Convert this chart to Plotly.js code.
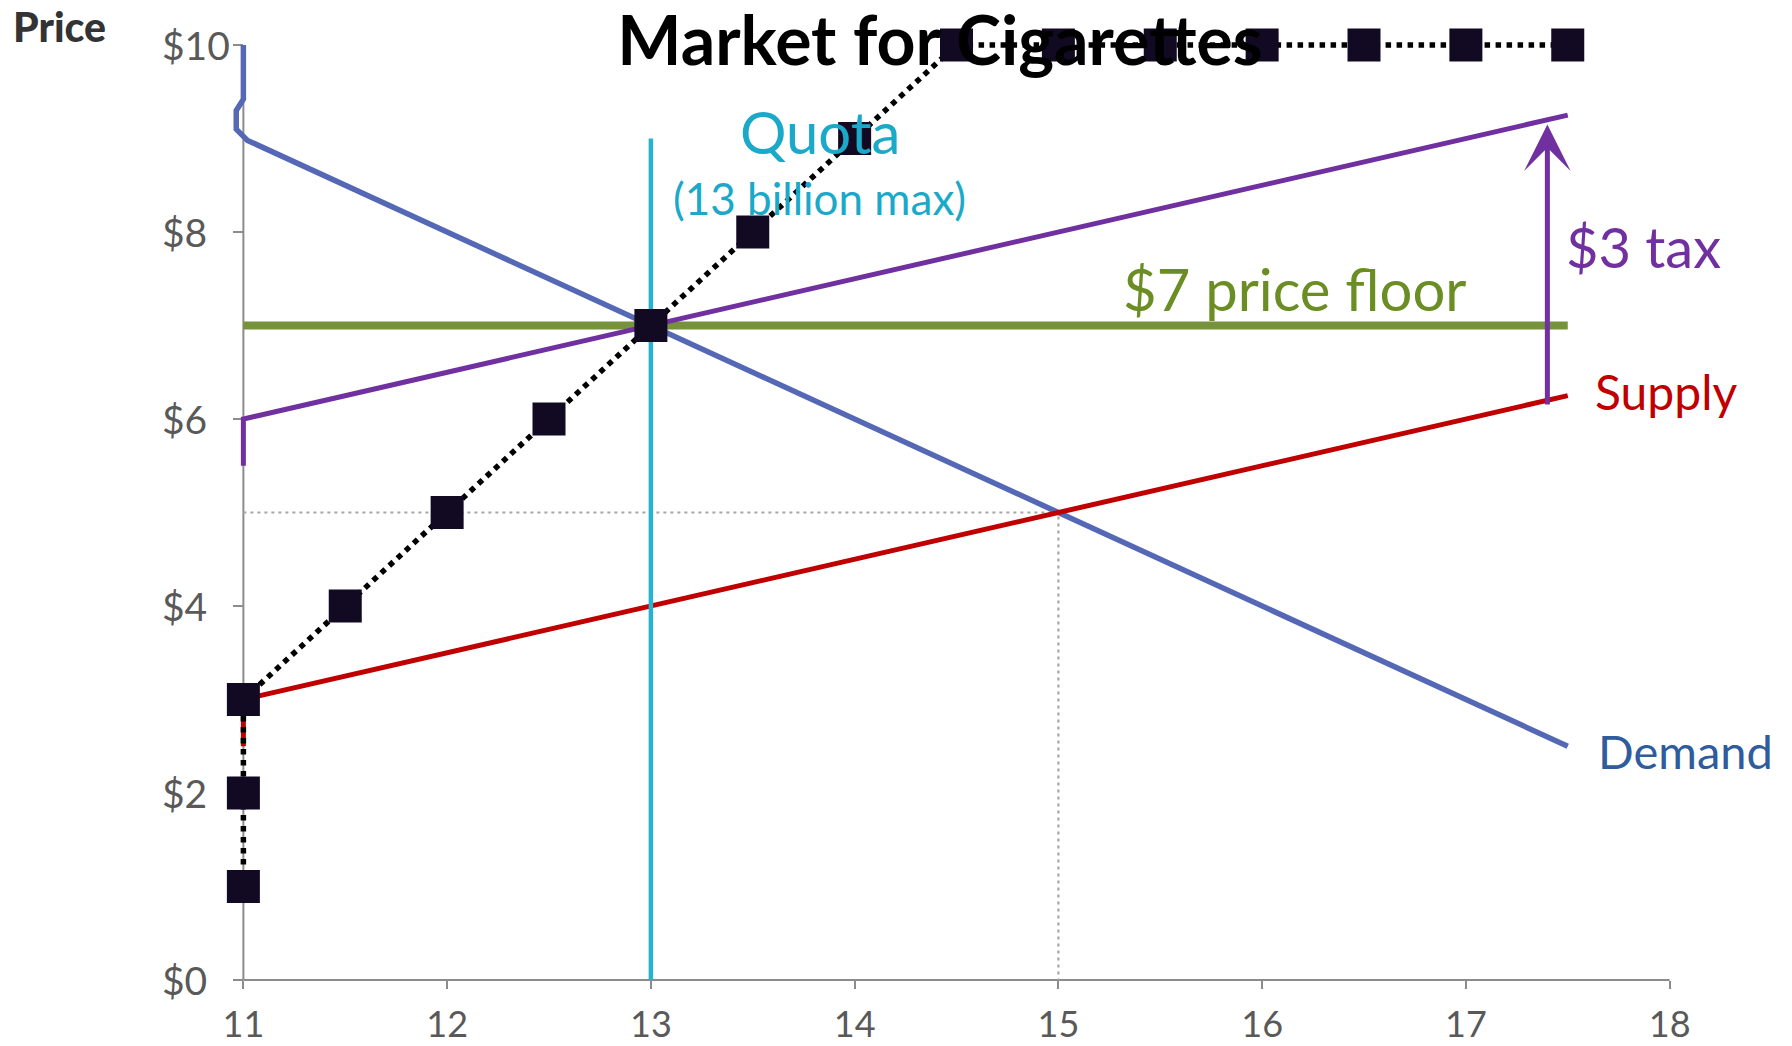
<!DOCTYPE html>
<html>
<head>
<meta charset="utf-8">
<script src="https://cdn.plot.ly/plotly-3.0.1.min.js"></script>
<style>
  html, body { margin: 0; padding: 0; background: #ffffff; }
  #chart { width: 1792px; height: 1046px; }
</style>
</head>
<body>
<div id="chart"></div>
<script>
// Quantity (billions of packs) and price ($) for the cigarette market
const xTickVals = [11, 12, 13, 14, 15, 16, 17, 18];
const yTickVals = [0, 2, 4, 6, 8, 10];
const yTickText = ['$0', '$2', '$4', '$6', '$8', '$10'];

// Demand curve
const demandQ = [11, 11, 10.965, 10.965, 11.02, 17.5];
const demandP = [10, 9.42, 9.3, 9.1, 8.98, 2.5];

// Supply curve
const supplyQ = [11, 11, 17.5];
const supplyP = [2.5, 3, 6.25];

// Supply with the tax added
const taxSupplyQ = [11, 11, 17.5];
const taxSupplyP = [5.5, 6, 9.25];

// Stepped black series with square markers
const stepQ = [11, 11, 11, 11.5, 12, 12.5, 13, 13.5, 14, 14.5, 15, 15.5, 16, 16.5, 17, 17.5];
const stepP = [1, 2, 3, 4, 5, 6, 7, 8, 9, 10, 10, 10, 10, 10, 10, 10];

// Policy values
const priceFloor = 7;
const floorQ = [11, 17.5];
const quota = 13;
const quotaTopP = 9;
const tax = 3;
const taxArrowQ = 17.4;
const taxArrowBaseP = 6.15;

// Free-market equilibrium guides
const eqQ = 15;
const eqP = 5;

const xRange = [10.9, 18.1];
const yRange = [-0.15, 10.15];
const xOrigin = 11, yOrigin = 0;

const FONT = 'Lato, "Open Sans", sans-serif';
const axisGrey = '#8c8c8c';

const traces = [
  { // equilibrium guides
    x: [xOrigin, eqQ, eqQ], y: [eqP, eqP, yOrigin],
    mode: 'lines', line: { color: '#a6a6a6', width: 2.2, dash: '3px,4px' },
    hoverinfo: 'skip'
  },
  { // price floor
    x: floorQ, y: [priceFloor, priceFloor],
    mode: 'lines', line: { color: '#76923c', width: 8 }, hoverinfo: 'skip'
  },
  { // demand
    x: demandQ, y: demandP,
    mode: 'lines', line: { color: '#5568b6', width: 5.5 }, hoverinfo: 'skip'
  },
  { // supply
    x: supplyQ, y: supplyP,
    mode: 'lines', line: { color: '#c00000', width: 5 }, hoverinfo: 'skip'
  },
  { // supply plus tax
    x: taxSupplyQ, y: taxSupplyP,
    mode: 'lines', line: { color: '#7030a0', width: 5 }, hoverinfo: 'skip'
  },
  { // quota
    x: [quota, quota], y: [yOrigin, quotaTopP],
    mode: 'lines', line: { color: '#27b2cf', width: 4.5 }, hoverinfo: 'skip'
  },
  { // step series
    x: stepQ, y: stepP,
    mode: 'lines+markers',
    line: { color: '#000000', width: 5.5, dash: 'dot' },
    marker: { symbol: 'square', size: 33, color: '#120a22', line: { width: 0 } },
    cliponaxis: false, hoverinfo: 'skip'
  }
];

const yPos = (xOrigin - xRange[0]) / (xRange[1] - xRange[0]);
const xPos = (yOrigin - yRange[0]) / (yRange[1] - yRange[0]);

const annotations = [];
// y tick labels, left aligned
yTickVals.forEach((v, i) => {
  annotations.push({
    xref: 'paper', yref: 'y', x: -0.043, y: v,
    xanchor: 'left', yanchor: 'middle', showarrow: false,
    text: yTickText[i], font: { family: FONT, size: 39, color: '#595959' }
  });
});

annotations.push(
  { xref: 'paper', yref: 'paper', x: -0.1445, y: 1.005, xanchor: 'left', yanchor: 'middle',
    showarrow: false, text: 'Price',
    font: { family: FONT, size: 41, color: '#333333', weight: 900 } },
  { xref: 'x', yref: 'y', x: 13.83, y: 9.08, showarrow: false, text: 'Quota',
    font: { family: FONT, size: 58, color: '#1aa9c9' } },
  { xref: 'x', yref: 'y', x: 13.83, y: 8.36, showarrow: false, text: '(13 billion max)',
    font: { family: FONT, size: 44, color: '#1aa9c9' } },
  { xref: 'x', yref: 'y', x: 16.16, y: 7.40, showarrow: false, text: '$7 price floor',
    font: { family: FONT, size: 58, color: '#6a8e23' } },
  { xref: 'x', yref: 'y', x: 17.87, y: 7.85, showarrow: false, text: '$3 tax',
    font: { family: FONT, size: 56, color: '#7030a0' } },
  { xref: 'x', yref: 'y', x: 17.98, y: 6.29, showarrow: false, text: 'Supply',
    font: { family: FONT, size: 48, color: '#c00000' } },
  { xref: 'x', yref: 'y', x: 18.08, y: 2.45, showarrow: false, text: 'Demand',
    font: { family: FONT, size: 47, color: '#2e5c9c' } },
  { // tax shift arrow
    xref: 'x', yref: 'y', axref: 'x', ayref: 'y',
    x: taxArrowQ, y: taxArrowBaseP + tax, ax: taxArrowQ, ay: taxArrowBaseP,
    text: '', font: { size: 1 }, borderpad: 0,
    showarrow: true, arrowhead: 3, arrowsize: 1.55, arrowwidth: 5, arrowcolor: '#7030a0',
    standoff: 0, startstandoff: 0
  }
);

const shapes = [
  { type: 'line', xref: 'x', yref: 'y', x0: xOrigin, x1: 18, y0: yOrigin, y1: yOrigin,
    line: { color: axisGrey, width: 2 }, layer: 'below' },
  { type: 'line', xref: 'x', yref: 'y', x0: xOrigin, x1: xOrigin, y0: yOrigin, y1: 10,
    line: { color: axisGrey, width: 2 }, layer: 'below' }
];

const layout = {
  width: 1792, height: 1046,
  margin: { l: 223, r: 102, t: 31, b: 52, pad: 0 },
  paper_bgcolor: '#ffffff', plot_bgcolor: '#ffffff',
  showlegend: false,
  title: {
    text: '<b>Market for Cigarettes</b>',
    font: { family: FONT, size: 68, color: '#000000' },
    xref: 'container', yref: 'container',
    x: 940 / 1792, y: 1 - 41 / 1046, xanchor: 'center', yanchor: 'middle'
  },
  xaxis: {
    range: xRange, autorange: false, fixedrange: true,
    anchor: 'free', position: xPos, layer: 'below traces',
    tickmode: 'array', tickvals: xTickVals,
    ticks: 'outside', ticklen: 8, tickwidth: 2, tickcolor: axisGrey,
    ticklabelstandoff: 5,
    tickfont: { family: FONT, size: 36, color: '#595959' },
    showgrid: false, zeroline: false, showline: false
  },
  yaxis: {
    range: yRange, autorange: false, fixedrange: true,
    anchor: 'free', position: yPos, layer: 'below traces',
    tickmode: 'array', tickvals: yTickVals,
    ticks: 'outside', ticklen: 10, tickwidth: 2, tickcolor: axisGrey,
    showticklabels: false,
    showgrid: false, zeroline: false, showline: false
  },
  annotations: annotations,
  shapes: shapes
};

Plotly.newPlot('chart', traces, layout, { displayModeBar: false, staticPlot: true });
</script>
</body>
</html>
